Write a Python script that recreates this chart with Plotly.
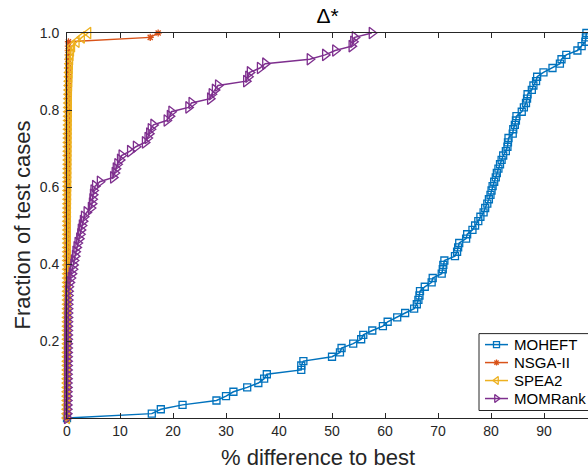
import plotly.graph_objects as go

# Sorted % difference to best for each algorithm (88 test cases, plus origin)
moheft = [0, 16.0, 17.7, 21.8, 28.2, 30.0, 31.4, 34.0, 36.1, 37.2,
          37.7, 44.2, 44.2, 44.6, 50.0, 51.5, 51.8, 54.0, 55.5, 55.9,
          57.6, 59.6, 60.5, 62.3, 63.8, 65.5, 66.0, 66.3, 66.5, 66.6,
          67.5, 68.8, 69.0, 70.7, 70.9, 71.0, 71.2, 73.2, 73.6, 73.8,
          74.0, 75.3, 75.5, 76.5, 77.0, 77.6, 78.0, 78.6, 78.9, 79.3,
          79.6, 79.9, 80.1, 80.3, 80.6, 80.9, 81.1, 81.4, 81.7, 82.0,
          82.3, 82.8, 83.1, 83.2, 83.3, 84.1, 84.2, 84.5, 84.7, 84.8,
          85.8, 86.2, 86.6, 86.8, 86.9, 87.7, 88.0, 88.5, 88.7, 89.9,
          91.6, 93.0, 93.3, 94.2, 96.3, 97.1, 97.8, 97.9, 98.0]

nsga2 = [0.00, 0.00, 0.00, 0.00, 0.00, 0.01, 0.01, 0.01, 0.01, 0.01,
         0.02, 0.02, 0.02, 0.02, 0.02, 0.03, 0.03, 0.03, 0.03, 0.03,
         0.04, 0.04, 0.04, 0.04, 0.04, 0.05, 0.05, 0.05, 0.05, 0.05,
         0.06, 0.06, 0.06, 0.06, 0.06, 0.07, 0.07, 0.07, 0.07, 0.07,
         0.08, 0.08, 0.08, 0.08, 0.08, 0.09, 0.09, 0.09, 0.09, 0.09,
         0.10, 0.10, 0.10, 0.10, 0.11, 0.11, 0.11, 0.11, 0.12, 0.12,
         0.12, 0.12, 0.13, 0.13, 0.13, 0.14, 0.14, 0.14, 0.15, 0.15,
         0.15, 0.16, 0.16, 0.17, 0.17, 0.18, 0.18, 0.19, 0.19, 0.20,
         0.21, 0.22, 0.23, 0.24, 0.25, 0.26, 0.28, 15.7, 17.2]

spea2 = [0.00, 0.00, 0.01, 0.01, 0.02, 0.02, 0.02, 0.03, 0.03, 0.03,
         0.04, 0.04, 0.04, 0.05, 0.05, 0.05, 0.06, 0.06, 0.06, 0.07,
         0.07, 0.07, 0.08, 0.08, 0.08, 0.09, 0.09, 0.09, 0.10, 0.10,
         0.10, 0.11, 0.11, 0.11, 0.12, 0.12, 0.12, 0.13, 0.13, 0.13,
         0.14, 0.14, 0.14, 0.15, 0.15, 0.15, 0.16, 0.16, 0.16, 0.17,
         0.17, 0.18, 0.18, 0.19, 0.19, 0.20, 0.20, 0.21, 0.21, 0.22,
         0.22, 0.23, 0.23, 0.24, 0.24, 0.25, 0.26, 0.27, 0.28, 0.29,
         0.30, 0.31, 0.32, 0.33, 0.34, 0.36, 0.38, 0.40, 0.42, 0.45,
         0.48, 0.52, 0.58, 0.65, 0.75, 0.95, 1.8, 2.8, 4.0]

momrank = [0.00, 0.01, 0.01, 0.02, 0.02, 0.03, 0.03, 0.04, 0.04, 0.05,
           0.05, 0.06, 0.06, 0.07, 0.07, 0.08, 0.08, 0.09, 0.09, 0.10,
           0.11, 0.12, 0.13, 0.14, 0.15, 0.16, 0.18, 0.20, 0.22,
           0.25, 0.3, 0.5, 0.7, 0.9, 1.1, 1.2, 1.3, 1.5, 1.6,
           1.8, 2.0, 2.3, 2.5, 2.6, 2.8, 3.0, 3.2, 3.7, 4.5,
           4.7, 4.8, 4.9, 5.0, 5.3, 6.2, 8.7, 9.0, 9.2, 9.5, 10.0,
           10.3, 11.9, 13.0, 14.7, 15.2, 15.5, 15.8, 16.3, 18.8, 19.4,
           19.7, 22.9, 23.5, 27.0, 27.3, 27.9, 28.5, 33.8, 34.2, 34.5,
           36.4, 37.4, 45.8, 48.7, 50.6, 53.7, 54.0, 54.3, 57.5]

N_CASES = 88
series_names = ["MOHEFT", "NSGA-II", "SPEA2", "MOMRank"]
x_ticks = [0, 10, 20, 30, 40, 50, 60, 70, 80, 90]
y_ticks = [0.2, 0.4, 0.6, 0.8, 1.0]


def fractions(values):
    return [k / N_CASES for k in range(len(values))]


colors = ["#0072BD", "#D95319", "#EDB120", "#7E2F8E"]
symbols = ["square-open", "asterisk-open", "triangle-left-open", "triangle-right-open"]
sizes = [7, 6, 10, 10]
data = [moheft, nsga2, spea2, momrank]
FONT = "Liberation Sans, Arial, sans-serif"

# plot-area geometry in pixels (used for the hand-placed legend)
PL, PR, PT, PB = 67, 588, 33, 418.5
W, H = 588, 473


def px_x(p):
    return (p - PL) / (PR - PL)


def px_y(p):
    return (PB - p) / (PB - PT)


fig = go.Figure()
for name, vals, col, sym, sz in zip(series_names, data, colors, symbols, sizes):
    fig.add_trace(go.Scatter(
        x=vals, y=fractions(vals), name=name, mode="lines+markers",
        line=dict(color=col, width=1.5),
        marker=dict(symbol=sym, size=sz, color=col, line=dict(color=col, width=1.3)),
        cliponaxis=False, showlegend=False,
    ))

# legend box (MATLAB-style, partly cut by the right edge)
LEG_L, LEG_T, LEG_B = 479, 334, 411
LEG_ROWS = [345, 363, 381, 399]
shapes = [dict(type="rect", xref="paper", yref="paper",
               x0=px_x(LEG_L), x1=px_x(610), y0=px_y(LEG_B), y1=px_y(LEG_T),
               line=dict(color="#262626", width=1), fillcolor="white", layer="below")]
annotations = []
for name, col, sym, sz, row in zip(series_names, colors, symbols, sizes, LEG_ROWS):
    # legend sample on an overlay axis measured in pixels
    fig.add_trace(go.Scatter(
        x=[485, 508], y=[row, row], mode="lines", line=dict(color=col, width=1.5),
        xaxis="x2", yaxis="y2", showlegend=False, hoverinfo="skip"))
    fig.add_trace(go.Scatter(
        x=[496.5], y=[row], mode="markers",
        marker=dict(symbol=sym, size=min(sz, 8) - 1, color=col, line=dict(color=col, width=1.3)),
        xaxis="x2", yaxis="y2", showlegend=False, hoverinfo="skip", cliponaxis=False))
    annotations.append(dict(text=name, xref="paper", yref="paper", x=px_x(512), y=px_y(row),
                            xanchor="left", yanchor="middle", showarrow=False,
                            font=dict(family=FONT, size=15, color="black")))

axis_font = dict(family=FONT, size=14, color="#262626")

annotations += [
    dict(text="Fraction of test cases", textangle=-90, xref="paper", yref="paper",
         x=px_x(22), y=0.5, xanchor="center", yanchor="middle", showarrow=False,
         font=dict(family=FONT, size=22, color="#262626")),
    dict(text="% difference to best", xref="paper", yref="paper",
         x=px_x(318), y=px_y(458), xanchor="center", yanchor="middle",
         showarrow=False, font=dict(family=FONT, size=22, color="#262626")),
]

fig.update_layout(
    width=W, height=H,
    margin=dict(l=PL, r=W - PR, t=PT, b=H - PB, autoexpand=False),
    paper_bgcolor="white", plot_bgcolor="white",
    showlegend=False,
    title=dict(text="Δ*", x=0.5, xref="paper", y=1 - 16 / H,
               yref="container", xanchor="center", yanchor="middle",
               font=dict(family=FONT, size=21, color="black")),
    xaxis=dict(range=[0, 98.3], tickvals=x_ticks, ticks="inside", ticklen=5,
               tickcolor="#262626", showline=True, linecolor="#262626", linewidth=1,
               mirror="ticks", showgrid=False, zeroline=False, tickfont=axis_font),
    yaxis=dict(range=[0, 1], tickvals=y_ticks, tickformat=".1f", ticks="inside", ticklen=5,
               tickcolor="#262626", showline=True, linecolor="#262626", linewidth=1,
               mirror=False, showgrid=False, zeroline=False, tickfont=axis_font,
               ticklabelstandoff=4),
    xaxis2=dict(overlaying="x", range=[PL, PR], visible=False, fixedrange=True),
    yaxis2=dict(overlaying="y", range=[PB, PT], visible=False, fixedrange=True),
    shapes=shapes,
    annotations=annotations,
)

fig.write_html("out.html")
